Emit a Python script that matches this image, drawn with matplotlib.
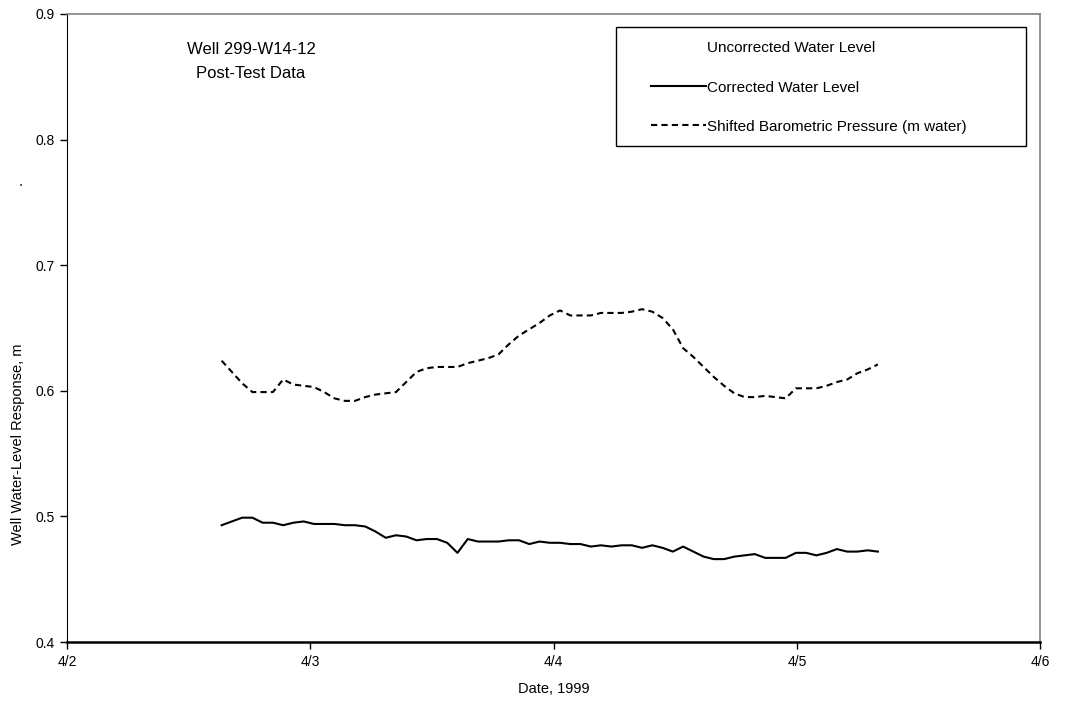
import numpy as np
import pandas as pd
import matplotlib
matplotlib.use("Agg")
import matplotlib.pyplot as plt
import matplotlib.dates as mdates
from matplotlib.lines import Line2D
from matplotlib.patches import Rectangle

plt.rcParams['font.family'] = ['Liberation Sans', 'DejaVu Sans']

# -------------------- Data --------------------

# roughly hourly readings, 4/2 afternoon to 4/5 morning
t_start = "1999-04-02 15:15"
t_end = "1999-04-05 08:00"
n_points = 65

corrected_level = [
    0.493, 0.496, 0.499, 0.499, 0.495, 0.495, 0.493, 0.495, 0.496, 0.494,
    0.494, 0.494, 0.493, 0.493, 0.492, 0.488, 0.483, 0.485, 0.484, 0.481,
    0.482, 0.482, 0.479, 0.471, 0.482, 0.480, 0.480, 0.480, 0.481, 0.481,
    0.478, 0.480, 0.479, 0.479, 0.478, 0.478, 0.476, 0.477, 0.476, 0.477,
    0.477, 0.475, 0.477, 0.475, 0.472, 0.476, 0.472, 0.468, 0.466, 0.466,
    0.468, 0.469, 0.470, 0.467, 0.467, 0.467, 0.471, 0.471, 0.469, 0.471,
    0.474, 0.472, 0.472, 0.473, 0.472,
]

shifted_baro = [
    0.624, 0.615, 0.606, 0.599, 0.599, 0.599, 0.609, 0.605, 0.604, 0.603,
    0.599, 0.594, 0.592, 0.592, 0.595, 0.597, 0.598, 0.599, 0.607, 0.615,
    0.618, 0.619, 0.619, 0.619, 0.622, 0.624, 0.626, 0.629, 0.637, 0.644,
    0.649, 0.654, 0.660, 0.664, 0.660, 0.660, 0.660, 0.662, 0.662, 0.662,
    0.663, 0.665, 0.663, 0.658, 0.649, 0.634, 0.627, 0.619, 0.611, 0.604,
    0.598, 0.595, 0.595, 0.596, 0.595, 0.594, 0.602, 0.602, 0.602, 0.604,
    0.607, 0.609, 0.614, 0.617, 0.621,
]

legend_labels = ["Uncorrected Water Level",
                 "Corrected Water Level",
                 "Shifted Barometric Pressure (m water)"]

x_ticks = pd.date_range("1999-04-02", "1999-04-06", freq="D")
y_ticks = [0.4, 0.5, 0.6, 0.7, 0.8, 0.9]

# -------------------- Plot --------------------

times = pd.date_range(t_start, t_end, periods=n_points)

fig = plt.figure(figsize=(10.66, 7.07), dpi=100)
ax = fig.add_axes([0.0629, 0.0919, 0.9128, 0.8883])

ax.plot(times, corrected_level, color='black', lw=1.5)
ax.plot(times, shifted_baro, color='black', lw=1.5, linestyle=(0, (3, 2)))

ax.set_xlim(x_ticks[0], x_ticks[-1])
ax.set_ylim(0.4, 0.9)
ax.set_xticks(x_ticks)
ax.set_yticks(y_ticks)
ax.xaxis.set_major_formatter(mdates.DateFormatter('%-m/%-d'))
ax.yaxis.set_major_formatter(plt.FuncFormatter(lambda v, p: f"{v:.1f}"))
ax.tick_params(direction='out', length=5, width=1, labelsize=10, pad=4)

for side in ['top', 'right']:
    ax.spines[side].set_color('#808080')
    ax.spines[side].set_linewidth(1.2)
ax.spines['left'].set_color('black')
ax.spines['bottom'].set_color('black')
ax.spines['bottom'].set_linewidth(1.8)

ax.set_xlabel("Date, 1999", fontsize=10.5, labelpad=10)

# y label sits a bit low, with a stray period further up (as in original)
fig.text(18 / 1066, 1 - 545 / 707, "Well Water-Level Response, m", rotation=90,
         ha='center', va='bottom', fontsize=10.5)
fig.text(18 / 1066, 1 - 183 / 707, ".", rotation=90,
         ha='center', va='center', fontsize=10.5)

ax.text(0.189, 0.9236, "Well 299-W14-12\nPost-Test Data", transform=ax.transAxes,
        ha='center', va='center', fontsize=12, linespacing=1.75)

# legend box drawn separately (Excel style, wide frame)
ax.add_patch(Rectangle((0.5642, 0.790), 0.4214, 0.1895, transform=ax.transAxes,
                       facecolor='white', edgecolor='black', lw=1.0, zorder=4))
handles = [Line2D([], [], color='none'),
           Line2D([], [], color='black', lw=1.5),
           Line2D([], [], color='black', lw=1.5, linestyle=(0, (3, 2)))]
leg = ax.legend(handles, legend_labels, loc='upper left',
                bbox_to_anchor=(0.588, 0.976), frameon=False, fontsize=11,
                handlelength=3.6, handletextpad=0.05, labelspacing=1.65,
                borderpad=0.3)
leg.set_zorder(5)

fig.savefig("out.png", dpi=100)
